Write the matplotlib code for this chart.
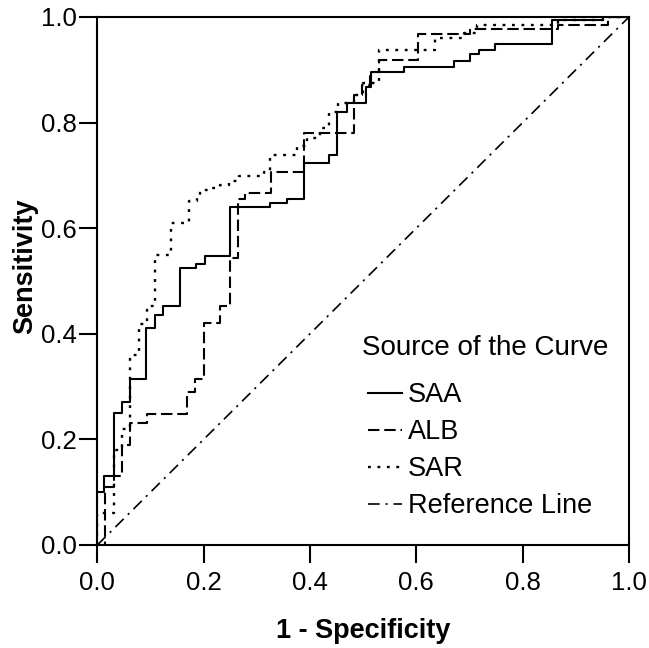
import matplotlib
matplotlib.use("Agg")
import matplotlib.pyplot as plt

# ROC curves: at fpr[k] the sensitivity rises to tpr[k] (staircase)
saa_fpr = [0, 0, 0.013, 0.031, 0.046, 0.062, 0.092, 0.108, 0.124, 0.155, 0.186, 0.203,
           0.249, 0.325, 0.357, 0.388, 0.435, 0.451, 0.469, 0.505, 0.514, 0.576, 0.670,
           0.701, 0.717, 0.748, 0.855, 0.952, 1.0]
saa_tpr = [0, 0.10, 0.13, 0.25, 0.27, 0.314, 0.411, 0.435, 0.452, 0.525, 0.533, 0.548,
           0.640, 0.648, 0.655, 0.724, 0.739, 0.821, 0.837, 0.868, 0.895, 0.906, 0.916,
           0.929, 0.938, 0.948, 0.994, 1.0, 1.0]

alb_fpr = [0, 0.015, 0.031, 0.046, 0.062, 0.093, 0.169, 0.184, 0.200, 0.231, 0.249, 0.264,
           0.278, 0.326, 0.388, 0.483, 0.498, 0.513, 0.529, 0.604, 0.701, 0.867, 0.960, 1.0]
alb_tpr = [0, 0.109, 0.13, 0.19, 0.232, 0.248, 0.289, 0.314, 0.42, 0.452, 0.544, 0.655,
           0.667, 0.706, 0.78, 0.853, 0.871, 0.895, 0.919, 0.967, 0.977, 0.985, 1.0, 1.0]

sar_fpr = [0, 0, 0.031, 0.046, 0.062, 0.078, 0.093, 0.109, 0.138, 0.172, 0.187, 0.194,
           0.216, 0.231, 0.247, 0.266, 0.313, 0.325, 0.375, 0.395, 0.419, 0.435, 0.452,
           0.483, 0.499, 0.529, 0.635, 0.690, 0.714, 0.867, 0.952, 1.0]
sar_tpr = [0, 0.06, 0.18, 0.22, 0.36, 0.418, 0.452, 0.55, 0.609, 0.651, 0.657, 0.673,
           0.676, 0.682, 0.690, 0.699, 0.706, 0.739, 0.755, 0.77, 0.79, 0.82, 0.837,
           0.853, 0.875, 0.938, 0.96, 0.97, 0.985, 0.994, 1.0, 1.0]

ref_x = [0, 1]
ref_y = [0, 1]

series_labels = ["SAA", "ALB", "SAR", "Reference Line"]
legend_title = "Source of the Curve"
tick_vals = [0.0, 0.2, 0.4, 0.6, 0.8, 1.0]
tick_labels = ["0.0", "0.2", "0.4", "0.6", "0.8", "1.0"]

plt.rcParams['font.family'] = ['Liberation Sans', 'DejaVu Sans']

fig = plt.figure(figsize=(6.49, 6.48), dpi=100)
ax = fig.add_axes([97.3 / 649, 1 - 545 / 648, (629 - 97.3) / 649, (545 - 17) / 648])

lw = 1.5
ax.plot(saa_fpr, saa_tpr, color='black', lw=lw, drawstyle='steps-post',
        label=series_labels[0])
ax.plot(alb_fpr, alb_tpr, color='black', lw=lw, drawstyle='steps-post',
        dashes=(5.5, 2.3), label=series_labels[1])
ax.plot(sar_fpr, sar_tpr, color='black', lw=1.7, drawstyle='steps-post',
        dashes=(1.2, 2.8), label=series_labels[2])
ax.plot(ref_x, ref_y, color='black', lw=1.2, dashes=(7, 3.5, 1.3, 3.5),
        label=series_labels[3])

ax.set_xlim(0, 1)
ax.set_ylim(0, 1)
ax.set_xticks(tick_vals)
ax.set_xticklabels(tick_labels)
ax.set_yticks(tick_vals)
ax.set_yticklabels(tick_labels)
ax.tick_params(axis='both', direction='out', length=13, width=1.5,
               labelsize=18.5, colors='black')
ax.tick_params(axis='x', pad=6)
ax.tick_params(axis='y', pad=1.5)
for s in ax.spines.values():
    s.set_linewidth(1.5)
    s.set_color('black')

ax.set_xlabel("1 - Specificity", fontsize=19.5, fontweight='bold', va='center')
ax.xaxis.set_label_coords(0.5, (545 - 631) / 528)
ax.set_ylabel("Sensitivity", fontsize=19.5, fontweight='bold', va='center')
ax.yaxis.set_label_coords((25 - 97.3) / 531.7, (545 - 266) / 528)

fig.text(362 / 649, 1 - 348 / 648, legend_title, fontsize=20, ha='left', va='center')
leg = ax.legend(loc='upper left', bbox_to_anchor=(368 / 649, 1 - 382 / 648),
                bbox_transform=fig.transFigure, frameon=False,
                fontsize=19.5, handlelength=1.25, handletextpad=0.22,
                labelspacing=0.41, borderpad=0, borderaxespad=0)

fig.savefig("out.png", dpi=100, facecolor='white')
